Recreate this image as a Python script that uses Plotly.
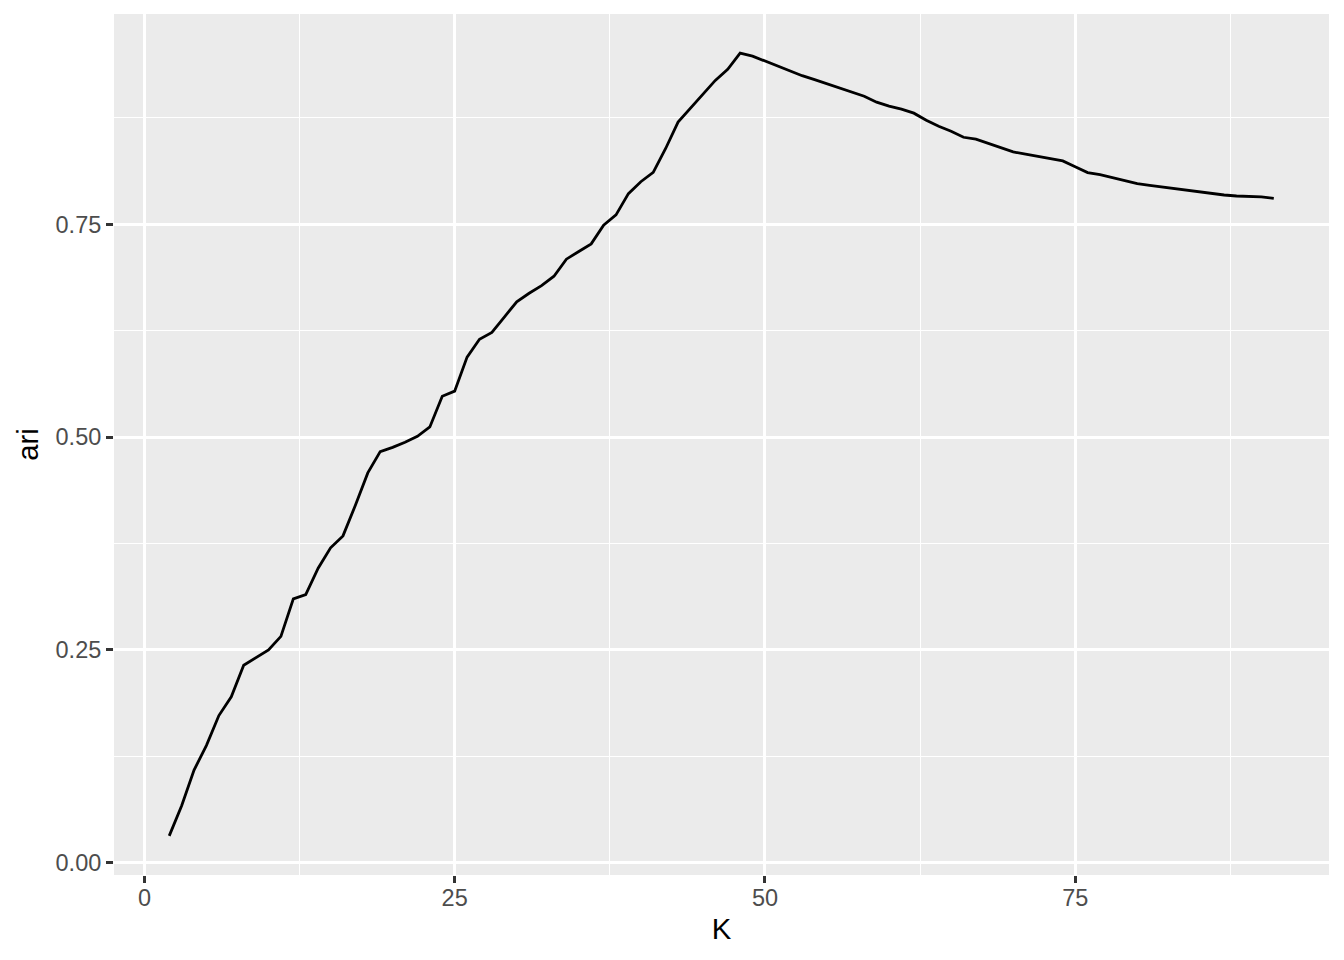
import plotly.graph_objects as go

K = list(range(2, 92))
ari = [
    0.0317, 0.067, 0.109, 0.138, 0.173, 0.195, 0.232, 0.241, 0.250, 0.266,
    0.310, 0.315, 0.346, 0.370, 0.384, 0.420, 0.458, 0.483, 0.488, 0.494,
    0.501, 0.512, 0.548, 0.554, 0.594, 0.615, 0.623, 0.641, 0.659, 0.669,
    0.678, 0.689, 0.709, 0.718, 0.727, 0.749, 0.761, 0.786, 0.800, 0.811,
    0.839, 0.870, 0.886, 0.903, 0.919, 0.932, 0.951, 0.9475, 0.9416, 0.9357,
    0.9298, 0.9245, 0.9198, 0.9151, 0.9104, 0.9051, 0.9004, 0.8934, 0.8887, 0.8852,
    0.8805, 0.8722, 0.8652, 0.8593, 0.8522, 0.8499, 0.8452, 0.8405, 0.8350, 0.8323,
    0.8296, 0.8270, 0.8244, 0.8176, 0.8107, 0.8082, 0.8049, 0.8017, 0.7978, 0.7958,
    0.7938, 0.7919, 0.7899, 0.7879, 0.7864, 0.7844, 0.7832, 0.7825, 0.7821, 0.7805,
]

x_ticks = [0, 25, 50, 75]
y_ticks = [0.00, 0.25, 0.50, 0.75]
y_tick_labels = ["0.00", "0.25", "0.50", "0.75"]

FONT = "Liberation Sans, Arial, Helvetica, sans-serif"


def expand(lo, hi, f=0.05):
    d = (hi - lo) * f
    return [lo - d, hi + d]


fig = go.Figure()
fig.add_trace(go.Scatter(x=K, y=ari, mode="lines",
                         line=dict(color="black", width=2.8), showlegend=False))

axis_common = dict(
    showgrid=True, gridcolor="white", gridwidth=2.8,
    zeroline=False, showline=False,
    ticks="outside", ticklen=7, tickwidth=2.8, tickcolor="#333333",
    tickfont=dict(family=FONT, size=23.5, color="#4D4D4D"),
)

fig.update_xaxes(
    **axis_common,
    range=expand(min(K), max(K)),
    tickmode="array", tickvals=x_ticks,
    ticklabelstandoff=-5,
    minor=dict(dtick=12.5, tick0=0, showgrid=True, gridcolor="white", gridwidth=1.4, ticks=""),
    title=dict(text="K", font=dict(family=FONT, size=29.3, color="black"), standoff=8),
)
fig.update_yaxes(
    **axis_common,
    range=expand(min(ari), max(ari)),
    tickmode="array", tickvals=y_ticks, ticktext=y_tick_labels,
    minor=dict(dtick=0.125, tick0=0, showgrid=True, gridcolor="white", gridwidth=1.4, ticks=""),
    title=dict(text="ari", font=dict(family=FONT, size=29.3, color="black"), standoff=8),
)

# page body has an 8px margin; size the figure so it fits inside the 1344x960 window
fig.update_layout(
    width=1328, height=944,
    paper_bgcolor="white", plot_bgcolor="#EBEBEB",
    margin=dict(l=106, r=7, t=6, b=77, autoexpand=False),
)

fig.write_html("out.html")
